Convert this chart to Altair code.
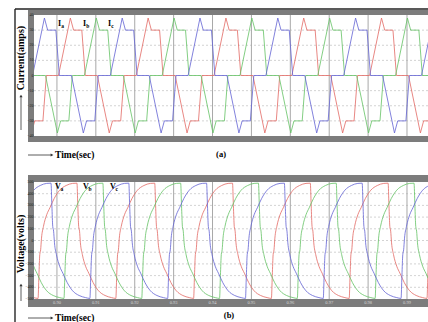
import altair as alt
import pandas as pd

# ---------------- data ----------------
T_MIN, T_MAX = 0.8941, 0.9954          # visible time window (s)
PERIOD = 0.02                           # fundamental period (s)
grid_times = [0.90, 0.91, 0.92, 0.93, 0.94, 0.95, 0.96, 0.97, 0.98, 0.99]
time_labels = ["0.90", "0.91", "0.92", "0.93", "0.94", "0.95", "0.96", "0.97", "0.98", "0.99"]

cur_ticks = [-40, -30, -20, -10, 0, 10, 20, 30, 40]
cur_grid = [-30, -20, -10, 0, 10, 20, 30]
volt_ticks = [-500, -400, -300, -200, -100, 0, 100, 200, 300, 400, 500]
volt_grid = [-400, -300, -200, -100, 0, 100, 200, 300, 400]

phase_lag_deg = [0, 120, 240]
cur_phases = ["Ia", "Ib", "Ic"]
volt_phases = ["Va", "Vb", "Vc"]

# one cycle of the phase current (deg, amps)
cur_deg = [0, 55, 70, 108, 124, 180, 235, 250, 288, 304, 360]
cur_val = [0, 38, 30, 30, 0, 0, -38, -30, -30, 0, 0]
cur_cycle_start = 0.88039

# one cycle of the phase voltage (deg, volts)
volt_deg = [0, 4, 8, 12, 16, 25, 40, 55, 75, 100, 130, 160, 180,
            184, 188, 192, 196, 205, 220, 235, 255, 280, 310, 340, 360]
volt_val = [490, 300, 120, 80, -20, -120, -220, -280, -360, -430, -470, -488, -495,
            -300, -120, -80, 20, 120, 220, 280, 360, 430, 470, 488, 490]
volt_cycle_start = 0.865141

cur_colors = ["#e26a66", "#66c266", "#6464d4"]
volt_colors = ["#e07ed2", "#9ad89a", "#8c8ce8"]

cur_label_t = [0.90026, 0.90668, 0.91311]
cur_label_v = [34, 34, 34]
volt_label_t = [0.89949, 0.90668, 0.91362]
volt_label_v = [460, 460, 460]

# ---------------- build tables ----------------
def build(names, start0, degs, vals):
    rows = []
    for name, lag in zip(names, phase_lag_deg):
        start = start0 + lag / 360 * PERIOD
        for k in range(-3, 10):
            for d, v in zip(degs, vals):
                t = start + (k + d / 360) * PERIOD
                if T_MIN - 0.006 <= t <= T_MAX + 0.006:
                    rows.append({"t": t, "v": v, "phase": name})
    return pd.DataFrame(rows)

cur_df = build(cur_phases, cur_cycle_start, cur_deg, cur_val)
volt_df = build(volt_phases, volt_cycle_start, volt_deg, volt_val)

L = 34          # left padding: plot starts here
W = 428 - L     # plot width
H = 322

xs = alt.Scale(domain=[T_MIN, T_MAX], nice=False, zero=False)
cur_scale = alt.Scale(domain=[-40, 40], range=[136, 15], nice=False, zero=False)
volt_scale = alt.Scale(domain=[-500, 500], range=[299, 182], nice=False, zero=False)

one = pd.DataFrame({"k": [0]})
SERIF = "Liberation Serif"


def gx(a):
    return a - L


def rect(x1, x2, y1, y2, color):
    return alt.Chart(one).mark_rect(color=color).encode(
        x=alt.value(gx(x1)), x2=alt.value(gx(x2)), y=alt.value(y1), y2=alt.value(y2))


def rule(x1, x2, y1, y2, color="black", w=1.0):
    return alt.Chart(one).mark_rule(color=color, strokeWidth=w).encode(
        x=alt.value(gx(x1)), x2=alt.value(gx(x2)), y=alt.value(y1), y2=alt.value(y2))


def text(s, x, y, size=9, angle=0, align="left", weight="bold", color="black"):
    return alt.Chart(one).mark_text(
        text=s, font=SERIF, fontSize=size, fontWeight=weight, angle=angle,
        align=align, baseline="middle", color=color).encode(
        x=alt.value(gx(x)), y=alt.value(y))


layers = []

# grids - panel a
layers.append(alt.Chart(pd.DataFrame({"v": cur_grid})).mark_rule(
    color="#c8c8c8", strokeDash=[2, 2], strokeWidth=0.8).encode(
    y=alt.Y("v:Q", scale=cur_scale, axis=None), x=alt.value(0), x2=alt.value(W)))
layers.append(alt.Chart(pd.DataFrame({"t": grid_times})).mark_rule(
    color="#a8a8a8", strokeWidth=1).encode(
    x=alt.X("t:Q", scale=xs, axis=None), y=alt.value(15), y2=alt.value(136)))
# grids - panel b
layers.append(alt.Chart(pd.DataFrame({"v": volt_grid})).mark_rule(
    color="#c8c8c8", strokeDash=[2, 2], strokeWidth=0.8).encode(
    y=alt.Y("v:Q", scale=volt_scale, axis=None), x=alt.value(0), x2=alt.value(W)))
layers.append(alt.Chart(pd.DataFrame({"t": grid_times})).mark_rule(
    color="#a8a8a8", strokeWidth=1).encode(
    x=alt.X("t:Q", scale=xs, axis=None), y=alt.value(182), y2=alt.value(299)))

# waveforms
layers.append(alt.Chart(cur_df).mark_line(strokeWidth=0.9, clip=True, opacity=0.9).encode(
    x=alt.X("t:Q", scale=xs, axis=None),
    y=alt.Y("v:Q", scale=cur_scale, axis=None),
    color=alt.Color("phase:N", scale=alt.Scale(domain=cur_phases, range=cur_colors), legend=None)))
layers.append(alt.Chart(volt_df).mark_line(strokeWidth=0.9, clip=True, opacity=0.9,
                                           interpolate="monotone").encode(
    x=alt.X("t:Q", scale=xs, axis=None),
    y=alt.Y("v:Q", scale=volt_scale, axis=None),
    color=alt.Color("phase:N", scale=alt.Scale(domain=volt_phases, range=volt_colors), legend=None)))

# gray frames
G = "#7c7c7c"
layers += [rect(28, 428, 10, 15, G), rect(28, 428, 136, 142, G), rect(28, 34, 10, 142, G),
           rect(28, 428, 175, 182, G), rect(28, 428, 299, 307, G), rect(28, 34, 175, 307, G)]

# tick labels
layers.append(alt.Chart(pd.DataFrame({"v": cur_ticks})).mark_text(
    fontSize=4, align="right", baseline="middle", color="#222", font=SERIF).encode(
    y=alt.Y("v:Q", scale=cur_scale, axis=None), x=alt.value(-0.5), text=alt.Text("v:Q")))
layers.append(alt.Chart(pd.DataFrame({"v": volt_ticks})).mark_text(
    fontSize=4, align="right", baseline="middle", color="#222", font=SERIF).encode(
    y=alt.Y("v:Q", scale=volt_scale, axis=None), x=alt.value(-0.5), text=alt.Text("v:Q")))
layers.append(alt.Chart(pd.DataFrame({"t": grid_times, "lab": time_labels})).mark_text(
    fontSize=4.5, align="center", baseline="middle", color="#d8d8d8", font=SERIF).encode(
    x=alt.X("t:Q", scale=xs, axis=None), y=alt.value(303), text="lab:N"))

# phase labels
lab_i = pd.DataFrame({"main": ["I", "I", "I"], "sub": ["a", "b", "c"], "t": cur_label_t, "v": cur_label_v})
lab_v = pd.DataFrame({"main": ["V", "V", "V"], "sub": ["a", "b", "c"], "t": volt_label_t, "v": volt_label_v})
for df, sc, dx in [(lab_i, cur_scale, 3.2), (lab_v, volt_scale, 5.5)]:
    layers.append(alt.Chart(df).mark_text(font=SERIF, fontWeight="bold", fontSize=8,
                                          align="left", baseline="middle").encode(
        x=alt.X("t:Q", scale=xs, axis=None), y=alt.Y("v:Q", scale=sc, axis=None), text="main:N"))
    layers.append(alt.Chart(df).mark_text(font=SERIF, fontWeight="bold", fontSize=5.5,
                                          align="left", baseline="middle", dx=dx, dy=2).encode(
        x=alt.X("t:Q", scale=xs, axis=None), y=alt.Y("v:Q", scale=sc, axis=None), text="sub:N"))

# outer frame lines
layers += [rule(15, 15, 9, 322, "black", 1.2), rule(15, 428, 9, 9, "#222", 1.5)]

# axis titles with arrows
layers += [
    text("Current(amps)", 21, 58, size=10, angle=270, align="center"),
    rule(21, 21, 97, 130, "#333", 0.8),
    text("Voltage(volts)", 21, 244, size=10, angle=270, align="center"),
    rule(21, 21, 286, 301, "#333", 0.8),
    rule(28, 51, 155, 155, "#333", 0.8),
    text("Time(sec)", 55, 155, size=9.5),
    text("(a)", 221, 154, size=8.5, align="center"),
    rule(28, 51, 318, 318, "#333", 0.8),
    text("Time(sec)", 55, 318, size=9.5),
    text("(b)", 229, 315, size=8.5, align="center"),
]
# arrow heads
layers += [
    alt.Chart(one).mark_point(shape="triangle-up", filled=True, size=10, color="#333", opacity=1).encode(
        x=alt.value(gx(21)), y=alt.value(96)),
    alt.Chart(one).mark_point(shape="triangle-up", filled=True, size=10, color="#333", opacity=1).encode(
        x=alt.value(gx(21)), y=alt.value(285)),
    alt.Chart(one).mark_point(shape="triangle-right", filled=True, size=10, color="#333", opacity=1).encode(
        x=alt.value(gx(52)), y=alt.value(155)),
    alt.Chart(one).mark_point(shape="triangle-right", filled=True, size=10, color="#333", opacity=1).encode(
        x=alt.value(gx(52)), y=alt.value(318)),
]

chart = alt.layer(*layers).resolve_scale(y="independent").properties(
    width=W, height=H,
    padding={"left": L, "top": 0, "right": 0, "bottom": 0},
    autosize=alt.AutoSizeParams(type="none"),
    background="white",
).configure_view(strokeWidth=0)

chart.save("out.html", embed_options={"renderer": "svg", "actions": False})
